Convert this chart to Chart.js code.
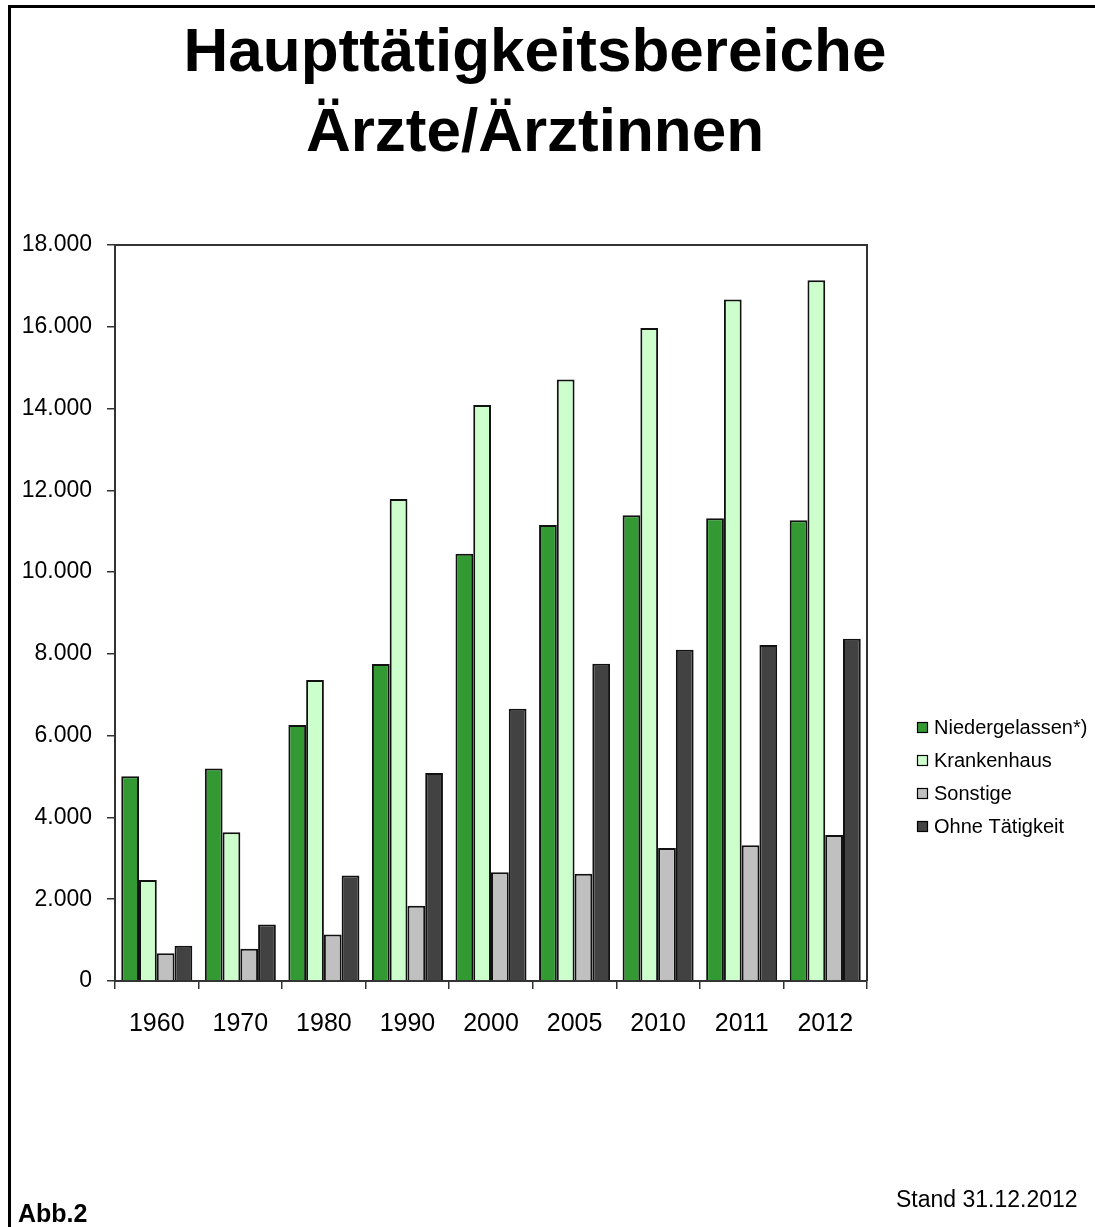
<!DOCTYPE html>
<html>
<head>
<meta charset="utf-8">
<script src="https://cdn.jsdelivr.net/npm/chart.js@4"></script>
<style>
  html, body { margin: 0; padding: 0; background: #fff; }
  body { width: 1095px; height: 1227px; position: relative; overflow: hidden; font-family: "Liberation Sans", Arial, sans-serif; }
  #frame { position: absolute; left: 8px; top: 5px; width: 1200px; height: 1300px; border-left: 3px solid #000; border-top: 3px solid #000; }
  #title { position: absolute; left: 0; top: 10px; width: 1070px; text-align: center; font-weight: bold; font-size: 62px; line-height: 80px; color: #000; }
  #abb { position: absolute; left: 18px; top: 1201px; font-weight: bold; font-size: 25px; line-height: 25px; }
  #stand { position: absolute; left: 896px; top: 1188px; font-size: 23px; line-height: 23px; }
  #chart { position: absolute; left: 0; top: 0; }
</style>
</head>
<body>
<div id="frame"></div>
<div id="title">Haupttätigkeitsbereiche<br>Ärzte/Ärztinnen</div>
<canvas id="chart" width="1095" height="1227"></canvas>
<div id="abb">Abb.2</div>
<div id="stand">Stand 31.12.2012</div>
<script>
var years = ['1960', '1970', '1980', '1990', '2000', '2005', '2010', '2011', '2012'];
var niedergelassen = [5010, 5200, 6260, 7750, 10450, 11150, 11390, 11320, 11270];
var krankenhaus = [2470, 3640, 7360, 11790, 14090, 14710, 15970, 16670, 17140];
var sonstige = [680, 790, 1140, 1840, 2660, 2620, 3250, 3320, 3570];
var ohneTaetigkeit = [860, 1380, 2580, 5090, 6660, 7760, 8100, 8220, 8370];
var yTickLabels = ['0', '2.000', '4.000', '6.000', '8.000', '10.000', '12.000', '14.000', '16.000', '18.000'];

// frame round the plot area (top and right sides)
var plotFrame = {
  id: 'plotFrame',
  afterDatasetsDraw: function(chart) {
    var a = chart.chartArea;
    var c = chart.ctx;
    c.save();
    c.strokeStyle = '#333';
    c.lineWidth = 2;
    c.beginPath();
    c.moveTo(a.left, a.top);
    c.lineTo(a.right, a.top);
    c.lineTo(a.right, a.bottom);
    c.stroke();
    c.restore();
  }
};

// legend on the right, drawn from the datasets
var sideLegend = {
  id: 'sideLegend',
  afterDraw: function(chart) {
    var c = chart.ctx;
    c.save();
    c.font = '20px "Liberation Sans", Arial, sans-serif';
    c.textBaseline = 'middle';
    c.textAlign = 'left';
    chart.data.datasets.forEach(function(ds, i) {
      var y = 727 + i * 33;
      c.fillStyle = ds.backgroundColor;
      c.fillRect(917, y - 5, 11, 11);
      c.strokeStyle = '#000';
      c.lineWidth = 1.2;
      c.strokeRect(917.5, y - 4.5, 10, 10);
      c.fillStyle = '#000';
      c.fillText(ds.label, 934, y + 1);
    });
    c.restore();
  }
};

function makeSet(label, data, color) {
  return {
    label: label,
    data: data,
    backgroundColor: color,
    borderColor: '#111',
    borderWidth: 2,
    borderSkipped: 'bottom',
    categoryPercentage: 0.85,
    barPercentage: 1.0
  };
}

new Chart(document.getElementById('chart'), {
  type: 'bar',
  data: {
    labels: years,
    datasets: [
      makeSet('Niedergelassen*)', niedergelassen, '#339933'),
      makeSet('Krankenhaus', krankenhaus, '#CCFFCC'),
      makeSet('Sonstige', sonstige, '#C0C0C0'),
      makeSet('Ohne Tätigkeit', ohneTaetigkeit, '#424242')
    ]
  },
  options: {
    responsive: false,
    animation: false,
    devicePixelRatio: 1,
    layout: { padding: { left: 0, top: 245, right: 228, bottom: 186 } },
    plugins: {
      legend: { display: false },
      title: { display: false },
      tooltip: { enabled: false }
    },
    scales: {
      x: {
        afterFit: function(s) { s.height = 60; },
        grid: { display: true, drawOnChartArea: false, drawTicks: true, tickLength: 8, color: '#333', lineWidth: 1.5 },
        border: { display: true, color: '#333', width: 2 },
        ticks: { color: '#000', padding: 20, font: { family: '"Liberation Sans", Arial, sans-serif', size: 25 } }
      },
      y: {
        min: 0,
        max: 18000,
        afterFit: function(s) { s.width = 115; },
        grid: { display: true, drawOnChartArea: false, drawTicks: true, tickLength: 8, color: '#333', lineWidth: 1.5 },
        border: { display: true, color: '#333', width: 2 },
        ticks: {
          stepSize: 2000,
          color: '#000',
          padding: 15,
          font: { family: '"Liberation Sans", Arial, sans-serif', size: 23 },
          callback: function(v, i) { return yTickLabels[i]; }
        }
      }
    }
  },
  plugins: [plotFrame, sideLegend]
});
</script>
</body>
</html>
